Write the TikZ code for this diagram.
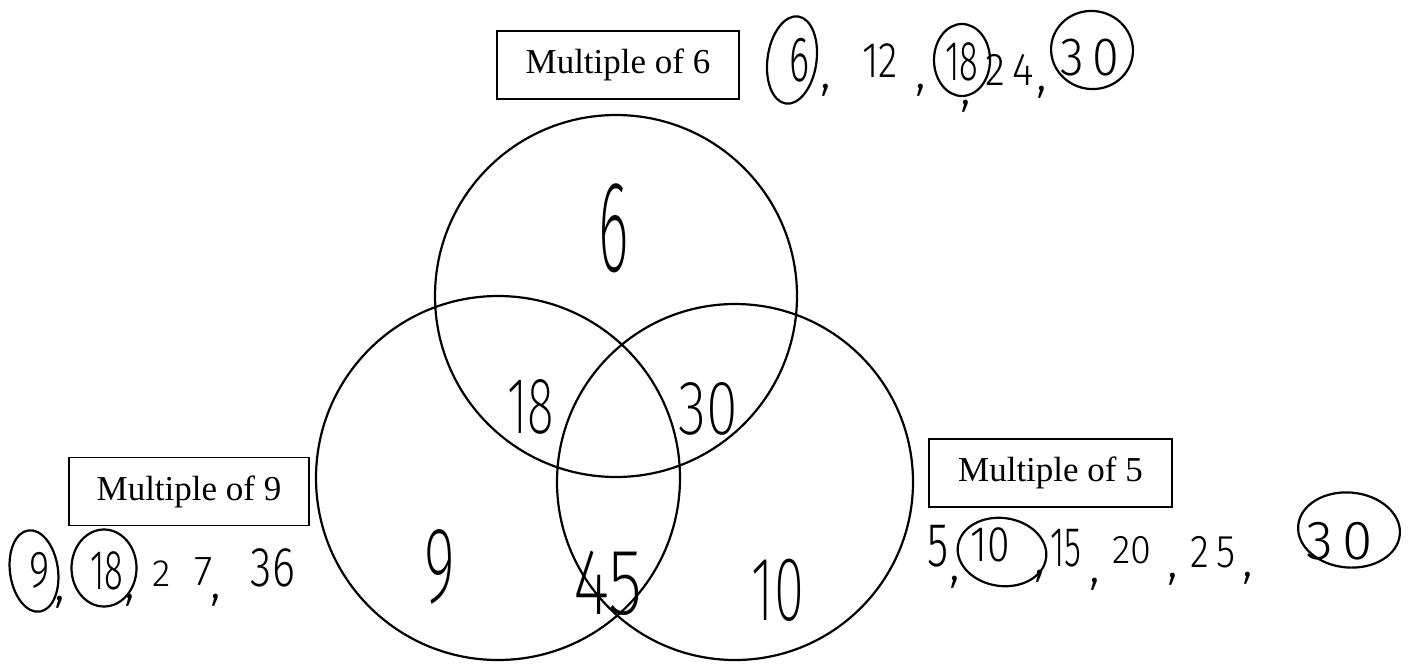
\documentclass[tikz,border=0pt]{standalone}
\usepackage{fontspec}
\setmainfont{Liberation Serif}
\IfFontExistsTF{Fira Sans Light}{\newfontfamily\hand{Fira Sans Light}}{%
 \IfFontExistsTF{Lato Light}{\newfontfamily\hand{Lato Light}}{%
  \IfFontExistsTF{DejaVu Sans ExtraLight}{\newfontfamily\hand{DejaVu Sans ExtraLight}}{%
   \newfontfamily\hand{Fira Sans}}}}
\IfFontExistsTF{Fira Sans ExtraLight}{\newfontfamily\handthin{Fira Sans ExtraLight}}{%
 \IfFontExistsTF{Fira Sans Thin}{\newfontfamily\handthin{Fira Sans Thin}}{%
  \IfFontExistsTF{DejaVu Sans ExtraLight}{\newfontfamily\handthin{DejaVu Sans ExtraLight}}{%
   \newfontfamily\handthin{Fira Sans}}}}
\usetikzlibrary{shapes.geometric}
\begin{document}
\begin{tikzpicture}[x=1pt,y=-1pt,
  venn/.style={circle,draw,line width=2.2pt,minimum size=#1,inner sep=0pt},
  labelbox/.style={draw,line width=1.6pt,minimum height=68pt,inner sep=0pt,font=\fontsize{35}{40}\selectfont},
  big/.style={font=\handthin\fontsize{#1}{#1}\selectfont,inner sep=0pt},
  hw/.style={font=\hand\fontsize{#1}{#1}\selectfont,inner sep=0pt},
  ring/.style={ellipse,draw,line width=2.2pt,inner sep=0pt}
]
\useasboundingbox (0,0) rectangle (1410,665);
\fill[white] (0,0) rectangle (1410,665);

% Venn circles
\node[venn=362pt] (c6) at (616,296) {};
\node[venn=364pt] (c9) at (498,478) {};
\node[venn=356pt] (c5) at (735,482) {};

% label boxes
\node[labelbox,minimum width=242pt] (b6) at (618,65) {Multiple of 6\hspace{12pt}};
\node[labelbox,minimum width=240pt] (b9) at (189,491.5) {Multiple of 9\hspace{12pt}};
\node[labelbox,minimum width=243pt] (b5) at (1050.5,473) {Multiple of 5\hspace{12pt}};

% numbers inside the diagram
\node[big=130] (n6) at (614,228) {\scalebox{0.45}[1]{6}};
\node[big=80] (n18) at (531,407) {\scalebox{0.62}[1]{18}};
\node[big=77] (n30) at (708,409) {\scalebox{0.75}[1]{30}};
\node[big=108] (n9) at (440,567) {\scalebox{0.55}[1]{9}};
\node[big=94] (n45) at (608,583) {\scalebox{0.75}[1]{45}};
\node[big=91] (n10) at (778,590) {\scalebox{0.6}[1]{10}};

% list: multiples of 6
\node[ring,minimum width=49pt,minimum height=88pt,rotate=-8] (r6a) at (792,60) {};
\node[hw=64] (t6a) at (800,60) {\scalebox{0.6}[1]{6}};
\node[hw=52] (k6a) at (826,90) {,};
\node[hw=50] (t6b) at (880,61) {\scalebox{0.8}[1]{12}};
\node[hw=52] (k6b) at (921,90) {,};
\node[ring,minimum width=56pt,minimum height=72pt] (r6c) at (962,60) {};
\node[hw=56] (t6c) at (962,62) {\scalebox{0.62}[1]{18}};
\node[hw=52] (k6c) at (966,106) {,};
\node[hw=46] (t6d) at (1010,70) {\scalebox{0.9}[1]{2\,4}};
\node[hw=52] (k6d) at (1042,92) {,};
\node[ring,minimum width=82pt,minimum height=78pt,rotate=-10] (r6e) at (1092,50) {};
\node[hw=54] (t6e) at (1090,58) {\scalebox{0.9}[1]{3\,0}};

% list: multiples of 9
\node[ring,minimum width=48pt,minimum height=82pt,rotate=8] (r9a) at (34,571) {};
\node[hw=52] (t9a) at (40,570) {\scalebox{0.75}[1]{9}};
\node[hw=52] (k9a) at (60,602) {,};
\node[ring,minimum width=65pt,minimum height=77pt] (r9b) at (104,568) {};
\node[hw=56] (t9b) at (107,571) {\scalebox{0.62}[1]{18}};
\node[hw=52] (k9b) at (130,600) {,};
\node[hw=38] (t9c) at (162,574) {2};
\node[hw=42] (t9d) at (204,572) {7};
\node[hw=52] (k9c) at (216,600) {,};
\node[hw=56] (t9e) at (273,568) {\scalebox{0.78}[1]{36}};

% list: multiples of 5
\node[hw=62] (t5a) at (938,546) {\scalebox{0.7}[1]{5}};
\node[hw=52] (k5a) at (955,582) {,};
\node[ring,minimum width=89pt,minimum height=68pt,rotate=-8] (r5b) at (1002,552) {};
\node[hw=50] (t5b) at (990,545) {\scalebox{0.82}[1]{10}};
\node[hw=52] (k5b) at (1040,576) {,};
\node[hw=56] (t5c) at (1066,548) {\scalebox{0.62}[1]{15}};
\node[hw=52] (k5c) at (1095,584) {,};
\node[hw=40] (t5d) at (1132,550) {\scalebox{0.95}[1]{20}};
\node[hw=52] (k5d) at (1173,579) {,};
\node[hw=46] (t5e) at (1213,552) {\scalebox{0.85}[1]{2\,5}};
\node[hw=52] (k5e) at (1248,578) {,};
\node[ring,minimum width=102pt,minimum height=75pt,rotate=-5] (r5f) at (1349,530) {};
\node[hw=55] (t5f) at (1340,541) {\scalebox{1}[1]{3\,0}};
\end{tikzpicture}
\end{document}
